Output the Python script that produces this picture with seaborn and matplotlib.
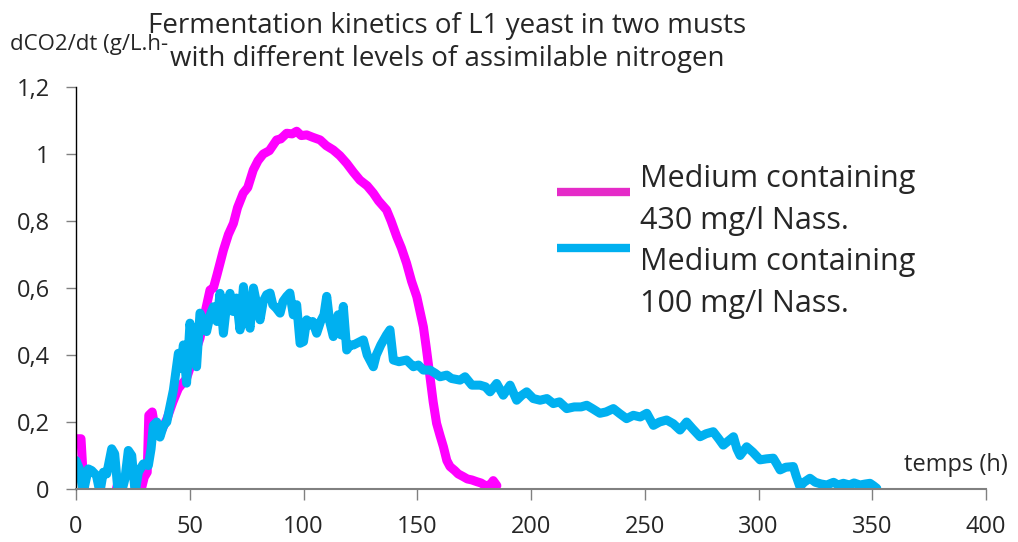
import pandas as pd
import seaborn as sns
import matplotlib.pyplot as plt
from matplotlib.lines import Line2D

# Medium with 430 mg/l assimilable nitrogen (magenta)
t_430 = [0, 2.2, 3.5, 6, 12, 17, 18.5, 20, 21, 28,
         30, 31.3, 32, 33.5, 35, 36.5, 38, 40, 42.6, 45,
         48.6, 51, 54.5, 56.5, 58.9, 60.4, 62, 64.8, 67, 69.2,
         71, 73.5, 75.5, 77.9, 80, 82.3, 85, 88.2, 90, 92.6,
         95, 97, 99, 101.4, 104, 107.3, 110, 113.1, 116, 119,
         122, 124.8, 128, 130.7, 133, 136.5, 138.5, 141, 143, 145.3,
         147.5, 149.8, 152.7, 154, 155.6, 157, 158.5, 160, 161.5, 163,
         164.4, 166.5, 168, 170.2, 172, 174, 176.1, 178, 180, 182,
         183.4, 185]
v_430 = [0.15, 0.15, 0.0, -0.02, -0.02, -0.02, 0.02, 0.02, -0.02, -0.02,
         0.035, 0.05, 0.22, 0.23, 0.17, 0.16, 0.18, 0.21, 0.26, 0.3,
         0.33, 0.38, 0.45, 0.52, 0.594, 0.6, 0.64, 0.713, 0.76, 0.793,
         0.84, 0.883, 0.9, 0.952, 0.98, 1.0, 1.01, 1.042, 1.045, 1.062,
         1.06, 1.068, 1.055, 1.057, 1.05, 1.042, 1.025, 1.012, 0.995, 0.972,
         0.945, 0.922, 0.905, 0.883, 0.86, 0.833, 0.8, 0.753, 0.72, 0.674,
         0.62, 0.574, 0.484, 0.42, 0.335, 0.26, 0.196, 0.16, 0.126, 0.085,
         0.067, 0.055, 0.045, 0.037, 0.03, 0.027, 0.022, 0.018, 0.01, 0.012,
         0.025, 0.01]

# Medium with 100 mg/l assimilable nitrogen (cyan)
t_100 = [0, 1.5, 3.2, 5.4, 6.9, 9, 10.5, 12, 13.5, 15.7,
         17, 18.5, 20, 21.5, 23, 24.5, 26, 27.4, 29.6, 31.8,
         33, 34, 35.5, 36.9, 38.5, 39.9, 42.8, 45, 46, 47.2,
         48.6, 50.1, 51.5, 53, 54.5, 56, 57.4, 59, 60.4, 62,
         63.3, 64.8, 66.2, 67.7, 69, 70.5, 72.1, 73.6, 75, 76.5,
         78, 79.5, 80.9, 82.3, 83.8, 85.3, 86.5, 88, 89.7, 91,
         92.6, 94, 95.5, 97, 98.5, 100, 101.4, 103, 104, 105.8,
         107.5, 109, 110.2, 111.5, 113.1, 114.5, 115.2, 116.5, 117.5, 119,
         120.5, 122, 124.8, 126.3, 128, 130.7, 132, 134, 136.5, 138,
         139.5, 142, 145.3, 148.3, 150.5, 152.7, 155.6, 158, 160, 163,
         165, 168.8, 171, 174, 177.6, 180, 182, 184.9, 187.8, 190.8,
         193.7, 196, 198.1, 201, 204, 207, 209.8, 212.5, 215.7, 219,
         222, 224.5, 227, 230.3, 233, 236.2, 239, 242, 245, 248,
         250.9, 253.8, 256.5, 259.6, 262.5, 265.5, 268.4, 271, 274.3, 277,
         280.1, 282.5, 284.5, 287, 289, 290.5, 291.9, 294.8, 297.5, 300.7,
         303.5, 306.5, 308, 309.5, 312, 315.3, 316.5, 318.2, 320, 322.6,
         325, 327.5, 330, 333, 335, 337.3, 340, 342, 344.6, 347,
         349, 350.5, 352]
v_100 = [0.085, 0.06, -0.01, 0.06, 0.055, 0.04, -0.01, 0.05, 0.045, 0.12,
         0.105, -0.01, -0.01, 0.03, 0.115, 0.1, -0.01, 0.05, 0.075, 0.07,
         0.12, 0.19, 0.2, 0.155, 0.19, 0.2, 0.295, 0.405, 0.36, 0.43,
         0.316, 0.495, 0.42, 0.365, 0.525, 0.5, 0.47, 0.52, 0.544, 0.5,
         0.584, 0.465, 0.55, 0.584, 0.53, 0.57, 0.475, 0.604, 0.52, 0.48,
         0.6, 0.55, 0.505, 0.56, 0.58, 0.585, 0.55, 0.54, 0.525, 0.56,
         0.575, 0.585, 0.52, 0.55, 0.435, 0.44, 0.505, 0.49, 0.5, 0.465,
         0.5, 0.52, 0.575, 0.5, 0.455, 0.5, 0.52, 0.46, 0.545, 0.415,
         0.43, 0.43, 0.44, 0.445, 0.4, 0.365, 0.4, 0.43, 0.46, 0.475,
         0.385, 0.38, 0.385, 0.365, 0.37, 0.355, 0.355, 0.345, 0.335, 0.34,
         0.33, 0.325, 0.335, 0.31, 0.31, 0.305, 0.29, 0.315, 0.28, 0.31,
         0.265, 0.28, 0.29, 0.27, 0.265, 0.27, 0.255, 0.26, 0.24, 0.245,
         0.245, 0.25, 0.24, 0.226, 0.23, 0.24, 0.225, 0.21, 0.22, 0.215,
         0.226, 0.19, 0.2, 0.206, 0.195, 0.176, 0.2, 0.18, 0.156, 0.165,
         0.171, 0.15, 0.131, 0.145, 0.156, 0.12, 0.1, 0.126, 0.11, 0.087,
         0.09, 0.092, 0.075, 0.057, 0.065, 0.067, 0.04, 0.007, 0.02, 0.032,
         0.02, 0.015, 0.012, 0.02, 0.012, 0.017, 0.012, 0.018, 0.012, 0.015,
         0.017, 0.01, 0.002]

labels = ["Medium containing\n430 mg/l Nass.", "Medium containing\n100 mg/l Nass."]
x_ticks = [0, 50, 100, 150, 200, 250, 300, 350, 400]
y_ticks = [0, 0.2, 0.4, 0.6, 0.8, 1.0, 1.2]
y_tick_labels = ["0", "0,2", "0,4", "0,6", "0,8", "1", "1,2"]
line_colors = ["#FF00FF", "#00B0F0"]
key_colors = ["#E52BC8", "#00B0F0"]

df = pd.concat([
    pd.DataFrame({"t": t_430, "v": v_430, "medium": labels[0]}),
    pd.DataFrame({"t": t_100, "v": v_100, "medium": labels[1]}),
])

sns.set_style("white")
plt.rcParams["font.family"] = ["Open Sans", "DejaVu Sans"]

W, H = 1018, 542
fig = plt.figure(figsize=(W / 100, H / 100), dpi=100)
ax = fig.add_axes([76 / W, 1 - 489 / H, 910 / W, 402 / H])

sns.lineplot(data=df, x="t", y="v", hue="medium", sort=False, estimator=None,
             palette=line_colors, linewidth=6.5, ax=ax, legend=False,
             solid_joinstyle="round", solid_capstyle="round")

ax.set_xlim(0, 400)
ax.set_ylim(0, 1.2)
ax.set_xticks(x_ticks)
ax.set_yticks(y_ticks)
ax.set_yticklabels(y_tick_labels)
ax.set_xlabel("")
ax.set_ylabel("")
ax.tick_params(axis="y", direction="out", length=7, width=1, color="#808080",
               labelsize=17, pad=12, left=True)
ax.tick_params(axis="x", direction="out", length=8, width=1, color="#808080",
               labelsize=17, pad=11, bottom=True)
for s in ["top", "right"]:
    ax.spines[s].set_visible(False)
ax.spines["left"].set_color("black")
ax.spines["left"].set_linewidth(1)
ax.spines["bottom"].set_color("#808080")
ax.spines["bottom"].set_linewidth(1.5)

# legend drawn by hand, Excel style: key next to the label, label on two lines
key_y = [192, 248]
text_y = [187, 270]
for color, label, ky, ty in zip(key_colors, labels, key_y, text_y):
    fig.add_artist(Line2D([557 / W, 630 / W], [1 - ky / H, 1 - ky / H],
                          color=color, linewidth=6, solid_capstyle="butt"))
    for i, part in enumerate(label.split("\n")):
        fig.text(640 / W, 1 - (ty + 42 * i) / H, part, fontsize=22,
                 ha="left", va="baseline")

fig.text(10 / W, 1 - 50 / H, "dCO2/dt (g/L.h-", fontsize=16, va="baseline", ha="left")
fig.text(447 / W, 1 - 33 / H, "Fermentation kinetics of L1 yeast in two musts",
         fontsize=20, ha="center", va="baseline")
fig.text(447 / W, 1 - 66 / H, "with different levels of assimilable nitrogen",
         fontsize=20, ha="center", va="baseline",
         bbox=dict(facecolor="white", edgecolor="none", pad=1))
fig.text(1008 / W, 1 - 465 / H, "temps (h)", fontsize=17, ha="right", va="center")

fig.savefig("out.png", dpi=100)
